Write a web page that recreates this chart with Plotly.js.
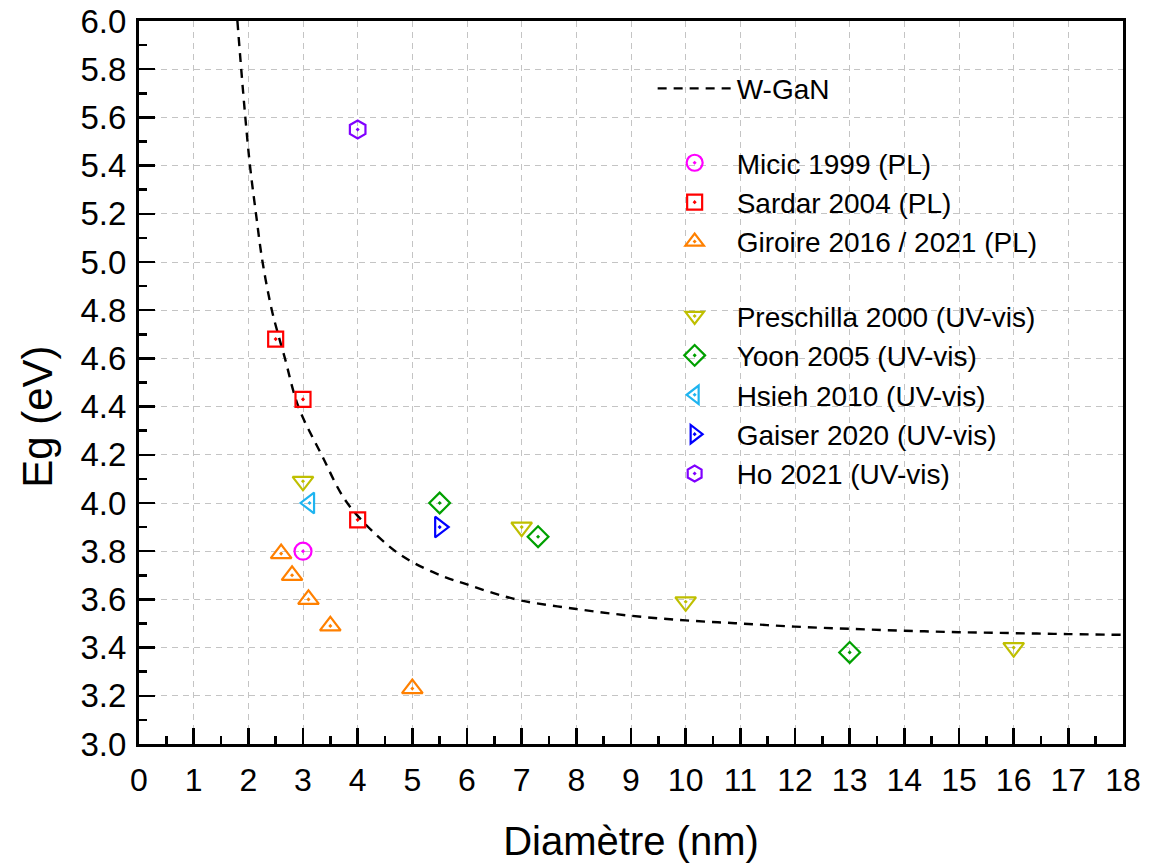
<!DOCTYPE html>
<html>
<head>
<meta charset="utf-8">
<script src="https://cdn.plot.ly/plotly-3.0.1.min.js"></script>
<style>html,body{margin:0;padding:0;background:#fff;}#chart{width:1151px;height:863px;}</style>
</head>
<body>
<div id="chart"></div>
<script>
// W-GaN curve
const ganX = [1.80, 1.87, 1.945, 2.03, 2.14, 2.26, 2.43, 2.57, 2.67, 2.915, 3.34, 3.81, 4.55, 5.0, 5.57, 6.0, 6.5, 7.0, 8.0, 9.0, 10.0, 11.0, 12.0, 13.0, 14.0, 15.0, 16.0, 17.0, 18.0];
const ganY = [6.0, 5.8, 5.6, 5.4, 5.2, 5.0, 4.8, 4.68, 4.6, 4.4, 4.2, 4.0, 3.825, 3.755, 3.695, 3.662, 3.625, 3.595, 3.56, 3.532, 3.513, 3.50, 3.487, 3.478, 3.47, 3.464, 3.46, 3.456, 3.453];

// PL data
const micicX = [3.0];             const micicY = [3.80];
const sardarX = [2.5, 3.0, 4.0];  const sardarY = [4.68, 4.43, 3.93];
const giroireX = [2.6, 2.8, 3.1, 3.5, 5.0];
const giroireY = [3.79, 3.70, 3.60, 3.49, 3.23];

// UV-vis data
const preschillaX = [3.0, 7.0, 10.0, 16.0];
const preschillaY = [4.09, 3.90, 3.59, 3.40];
const yoonX = [5.5, 7.3, 13.0];   const yoonY = [4.00, 3.86, 3.38];
const hsiehX = [3.12];            const hsiehY = [4.00];
const gaiserX = [5.5];            const gaiserY = [3.90];
const hoX = [4.0];                const hoY = [5.55];

const names = {
  gan: 'W-GaN',
  micic: 'Micic 1999 (PL)',
  sardar: 'Sardar 2004 (PL)',
  giroire: 'Giroire 2016 / 2021 (PL)',
  preschilla: 'Preschilla 2000 (UV-vis)',
  yoon: 'Yoon 2005 (UV-vis)',
  hsieh: 'Hsieh 2010 (UV-vis)',
  gaiser: 'Gaiser 2020 (UV-vis)',
  ho: 'Ho 2021 (UV-vis)'
};
const xTitle = 'Diamètre (nm)';
const yTitle = 'Eg (eV)';

function pts(x, y, name, sym, color, size, group) {
  return {
    x: x, y: y, name: name, type: 'scatter', mode: 'markers', legendgroup: group,
    marker: {symbol: sym, size: size, color: color, line: {color: color, width: 2.2}},
    cliponaxis: false
  };
}

const traces = [
  {x: ganX, y: ganY, name: names.gan, type: 'scatter', mode: 'lines', legendgroup: 'a',
   line: {color: '#000', width: 2.4, dash: '9px,7px', shape: 'spline', smoothing: 1}},
  pts(micicX, micicY, names.micic, 'circle-open-dot', '#FF00FF', 17, 'b'),
  pts(sardarX, sardarY, names.sardar, 'square-open-dot', '#FF0000', 15, 'b'),
  pts(giroireX, giroireY, names.giroire, 'triangle-up-open-dot', '#FF8000', 18, 'b'),
  pts(preschillaX, preschillaY, names.preschilla, 'triangle-down-open-dot', '#BFBF00', 18, 'c'),
  pts(yoonX, yoonY, names.yoon, 'diamond-open-dot', '#00A000', 16, 'c'),
  pts(hsiehX, hsiehY, names.hsieh, 'triangle-left-open-dot', '#1EB4F0', 18, 'c'),
  pts(gaiserX, gaiserY, names.gaiser, 'triangle-right-open-dot', '#0000FF', 18, 'c'),
  pts(hoX, hoY, names.ho, 'hexagon-open-dot', '#8000FF', 18, 'c')
];

const font = 'Liberation Sans, Arial, Helvetica, sans-serif';
const layout = {
  width: 1151, height: 863,
  margin: {l: 139, r: 28, t: 21, b: 119, pad: 0},
  paper_bgcolor: '#fff', plot_bgcolor: '#fff',
  font: {family: font, color: '#000'},
  showlegend: true,
  legend: {
    x: 0.522, y: 0.941, xanchor: 'left', yanchor: 'top',
    bgcolor: 'rgba(0,0,0,0)', borderwidth: 0,
    font: {family: font, size: 28, color: '#000'},
    traceorder: 'grouped', tracegroupgap: 35, itemwidth: 74
  },
  xaxis: {
    range: [0, 18], dtick: 1, tick0: 0,
    showline: true, linecolor: '#000', linewidth: 3, mirror: true,
    ticks: 'inside', ticklen: 16, tickwidth: 2.5, tickcolor: '#000',
    minor: {dtick: 0.5, ticks: 'inside', ticklen: 8, tickwidth: 2.5, tickcolor: '#000', showgrid: false},
    showgrid: true, gridcolor: '#C4C4C4', gridwidth: 1, griddash: '6px,5px',
    zeroline: false,
    tickfont: {family: font, size: 32, color: '#000'},
    ticklabelstandoff: 6,
    title: {text: xTitle, font: {family: font, size: 40, color: '#000'}, standoff: 30},
    automargin: false
  },
  yaxis: {
    range: [3.0, 6.0], dtick: 0.2, tick0: 3.0, tickformat: '.1f',
    showline: true, linecolor: '#000', linewidth: 3, mirror: true,
    ticks: 'inside', ticklen: 16, tickwidth: 2.5, tickcolor: '#000',
    minor: {dtick: 0.1, ticks: 'inside', ticklen: 8, tickwidth: 2.5, tickcolor: '#000', showgrid: false},
    showgrid: true, gridcolor: '#C4C4C4', gridwidth: 1, griddash: '6px,5px',
    zeroline: false,
    tickfont: {family: font, size: 33, color: '#000'},
    ticklabelstandoff: 3,
    automargin: false
  },
  annotations: [{
    text: yTitle, textangle: -90, showarrow: false,
    xref: 'paper', yref: 'paper', x: -0.1033, y: 0.453, xanchor: 'center', yanchor: 'middle',
    font: {family: font, size: 42, color: '#000'}
  }]
};

Plotly.newPlot('chart', traces, layout, {staticPlot: true, displayModeBar: false});
</script>
</body>
</html>
